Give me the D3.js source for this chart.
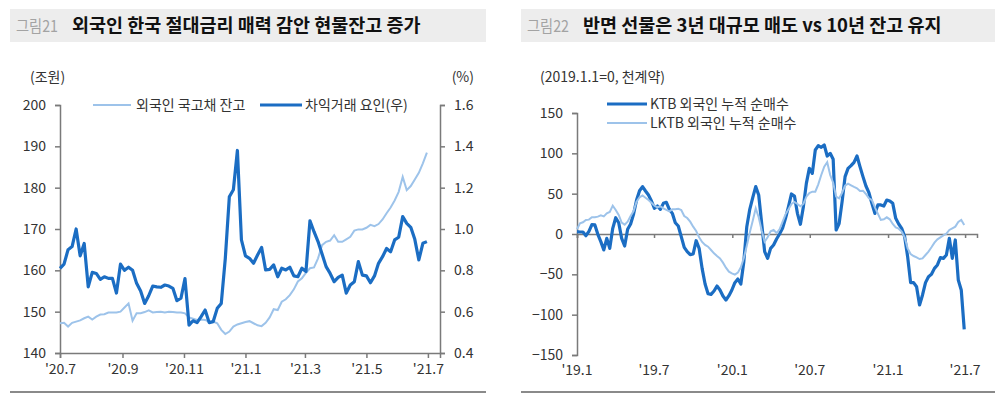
<!DOCTYPE html>
<html>
<head>
    <meta charset="utf-8">
    <title>외국인 국고채 / 선물</title>
    <style>
        body { margin: 0; background: #fff; }
        svg text { font-family: "Noto Sans CJK KR", "Noto Sans", sans-serif; fill: #333; }
        .axis path, .axis line { stroke: #7a7a7a; stroke-width: 1.5px; }
        .axis text { font-size: 14px; fill: #333; }
    </style>
</head>
<body>
    <svg width="1000" height="399"></svg>
    <script src="https://d3js.org/d3.v7.min.js"></script>
    <script>
        // ---- data: left panel (4-day steps from 2020-07-01) ----
        const leftStart = "2020-07-01";
        const leftStep = 4;
        const bondBalance = [ // 외국인 국고채 잔고 (조원)
            147.2, 147.3, 146.4, 147.3, 147.6, 147.9, 148.4, 148.8, 148.1, 148.8,
            149.3, 149.4, 149.8, 149.8, 149.8, 150.0, 151.0, 152.0, 147.8, 149.6,
            149.6, 149.9, 150.3, 149.8, 149.9, 150.0, 149.8, 150.0, 149.9, 149.8,
            149.8, 149.6, 148.6, 148.3, 148.0, 148.1, 148.0, 147.5, 147.6, 147.2,
            145.6, 144.6, 145.2, 146.4, 146.9, 147.2, 147.5, 147.7, 147.2, 146.7,
            146.5, 147.3, 148.6, 150.6, 150.4, 152.4, 153.0, 154.0, 155.4, 157.3,
            158.1, 159.4, 160.5, 160.7, 162.9, 166.1, 166.9, 167.2, 168.5, 166.9,
            166.9, 167.5, 168.1, 169.6, 169.9, 169.9, 170.3, 171.0, 170.7, 171.2,
            172.3, 173.8, 175.2, 176.9, 179.0, 182.6, 179.4, 180.4, 182.0, 183.6,
            185.9, 188.5
        ];
        const arbFactor = [ // 차익거래 요인 (%, 우)
            0.81, 0.83, 0.90, 0.915, 1.00, 0.87, 0.93, 0.72, 0.79, 0.785,
            0.756, 0.769, 0.761, 0.761, 0.69, 0.83, 0.80, 0.815, 0.80, 0.737,
            0.70, 0.64, 0.677, 0.724, 0.72, 0.718, 0.729, 0.724, 0.713, 0.653,
            0.665, 0.76, 0.535, 0.556, 0.547, 0.576, 0.608, 0.547, 0.552, 0.616,
            0.64, 0.858, 1.156, 1.19, 1.38, 0.947, 0.87, 0.858, 0.834, 0.874,
            0.911, 0.802, 0.805, 0.826, 0.769, 0.81, 0.802, 0.815, 0.773, 0.769,
            0.81, 0.794, 1.04, 0.987, 0.939, 0.879, 0.818, 0.785, 0.745, 0.766,
            0.777, 0.69, 0.729, 0.745, 0.842, 0.777, 0.773, 0.74, 0.773, 0.834,
            0.866, 0.906, 0.89, 0.947, 0.96, 1.06, 1.027, 1.008, 0.95, 0.85,
            0.931, 0.939
        ];
        const leftTicks = ["2020-07-01", "2020-09-01", "2020-11-01", "2021-01-01", "2021-03-01", "2021-05-01", "2021-07-01"];
        const leftYTicks = [140, 150, 160, 170, 180, 190, 200];
        const rightYTicksL = [0.4, 0.6, 0.8, 1.0, 1.2, 1.4, 1.6];

        // ---- data: right panel (weekly from 2019-01-01, 천계약) ----
        const rightStart = "2019-01-01";
        const rightStep = 7;
        const ktbNet = [ // KTB 외국인 누적 순매수
            2.9, 2.5, 2.5, -2.1, 3.3, 11.6, 11.2, -0.4, -9.5, -19.8,
            -5.4, -17.8, 7.0, 20.2, 14.0, -5.4, -14.9, 5.8, 12.4, 24.8,
            42.1, 53.7, 58.7, 53.3, 48.3, 40.9, 31.8, 34.7, 30.6, 38.0,
            39.3, 30.6, 25.6, 14.0, 9.9, -3.3, -16.5, -21.9, -25.6, -24.8,
            -8.3, -17.8, -42.6, -62.0, -74.0, -74.8, -70.7, -64.5, -69.4, -76.9,
            -81.8, -76.4, -69.4, -60.3, -55.8, -62.0, -34.3, 9.1, 30.6, 45.0,
            58.7, 48.3, 13.2, -21.9, -30.2, -17.8, -13.6, -6.2, 0, 7.0,
            19.4, 33.9, 49.6, 47.1, 25.6, 12.0, 33.9, 62.8, 81.4, 75.2,
            104.1, 109.5, 107.4, 110.3, 96.7, 100.0, 92.6, 5.0, 13.0, 40.1,
            71.1, 81.4, 84.7, 88.8, 96.7, 83.5, 71.1, 59.5, 51.2, 38.0,
            25.6, 36.0, 36.0, 34.7, 42.1, 40.9, 38.0, 19.4, 12.4, 7.0,
            -3.3, -28.1, -60.3, -60.3, -65.3, -88, -75.6, -60.3, -52.9, -50.0,
            -42.6, -38.4, -29.3, -30.2, -26.0, -5.4, -30.2, -7.4, -57.0, -69.4,
            -118.2
        ];
        const lktbNet = [ // LKTB 외국인 누적 순매수
            5.8, 13.2, 14.5, 17.4, 17.8, 20.7, 20.7, 21.5, 23.1, 21.9,
            25.6, 27.3, 35.1, 29.8, 23.6, 14.0, 11.6, 15.3, 22.3, 28.5,
            40.1, 45.5, 47.9, 45.0, 42.1, 38.8, 35.1, 33.1, 34.3, 31.8,
            29.8, 28.1, 30.6, 30.6, 31.4, 29.8, 22.3, 19.8, 15.3, 9.1,
            3.7, -4.1, -9.9, -13.6, -15.7, -19.8, -24.0, -27.3, -30.2, -35.5,
            -41.7, -46.7, -48.8, -50.4, -47.9, -41.3, -29.8, -14.5, 1.7, 16.5,
            31.8, 20.7, 4.1, -9.5, -4.1, 3.3, 5.0, 1.2, 5.8, 14.9,
            24.4, 30.6, 37.2, 39.7, 37.2, 34.3, 37.2, 46.3, 50.8, 52.5,
            52.5, 61.6, 73.1, 83.5, 89, 73.1, 63.6, 46.3, 44.2, 51.2,
            59.9, 62.4, 60.3, 58.3, 56.6, 53.3, 53.7, 49.6, 44.2, 42.1,
            33.1, 25.2, 17.4, 18.2, 20.7, 18.2, 12.4, 8.3, 6.6, 2.9,
            -4.1, -17.8, -24.8, -27.3, -28.9, -31.0, -30.2, -26.0, -21.9, -16.5,
            -10.7, -6.6, -4.1, -1.7, 0.4, 5.0, 7.0, 9.1, 14.9, 17.4,
            11.2
        ];
        const rightTicks = ["2019-01-01", "2019-07-01", "2020-01-01", "2020-07-01", "2021-01-01", "2021-07-01"];
        const rightYTicks = [-150, -100, -50, 0, 50, 100, 150];

        const DARK = "#1b6dc3";
        const LIGHT = "#9dc3ea";

        const parse = d3.utcParse("%Y-%m-%d");
        const fmtDate = d3.utcFormat("'%y.%-m");
        const svg = d3.select("svg");

        function datesFor(start, step, n) {
            const s = parse(start);
            return d3.range(n).map(i => d3.utcDay.offset(s, i * step));
        }

        function titleBar(x0, x1, num, title) {
            svg.append("rect").attr("x", x0).attr("y", 9).attr("width", x1 - x0).attr("height", 33)
                .attr("fill", "#ededed");
            svg.append("text").attr("x", x0 + 6).attr("y", 32).attr("font-size", 16)
                .attr("textLength", 42).attr("lengthAdjust", "spacingAndGlyphs")
                .style("fill", "#a3a3a3").text(num);
            svg.append("text").attr("x", x0 + 62).attr("y", 32).attr("font-size", 18.5)
                .attr("font-weight", "bold").style("fill", "#111").text(title);
            svg.append("line").attr("x1", x0).attr("x2", x1).attr("y1", 392).attr("y2", 392)
                .attr("stroke", "#8a8a8a").attr("stroke-width", 2);
        }

        titleBar(10, 486, "그림21", "외국인 한국 절대금리 매력 감안 현물잔고 증가");
        titleBar(521, 995, "그림22", "반면 선물은 3년 대규모 매도 vs 10년 잔고 유지");

        // ================= left panel =================
        const lDates = datesFor(leftStart, leftStep, bondBalance.length);
        const xL = d3.scaleUtc().domain([parse("2020-07-01"), parse("2021-07-13")]).range([60, 440]);
        const yL = d3.scaleLinear().domain([140, 200]).range([353, 105]);
        const yR = d3.scaleLinear().domain([0.4, 1.6]).range([353, 105]);

        svg.append("g").attr("class", "axis").attr("transform", "translate(60,0)")
            .call(d3.axisLeft(yL).tickValues(leftYTicks).tickSize(5).tickPadding(9).tickFormat(d3.format("d")));
        svg.append("g").attr("class", "axis").attr("transform", "translate(440,0)")
            .call(d3.axisRight(yR).tickValues(rightYTicksL).tickSize(5).tickPadding(9).tickFormat(d3.format(".1f")));
        svg.append("g").attr("class", "axis").attr("transform", "translate(0,353)")
            .call(d3.axisBottom(xL).tickValues(leftTicks.map(parse)).tickSize(5).tickPadding(6).tickFormat(fmtDate));

        const lineBal = d3.line().x((d, i) => xL(lDates[i])).y(d => yL(d));
        const lineArb = d3.line().x((d, i) => xL(lDates[i])).y(d => yR(d));

        svg.append("path").datum(bondBalance).attr("d", lineBal)
            .attr("fill", "none").attr("stroke", LIGHT).attr("stroke-width", 2);
        svg.append("path").datum(arbFactor).attr("d", lineArb)
            .attr("fill", "none").attr("stroke", DARK).attr("stroke-width", 3.2).attr("stroke-linejoin", "round");

        svg.append("text").attr("x", 30).attr("y", 82).attr("font-size", 14).text("(조원)");
        svg.append("text").attr("x", 474).attr("y", 82).attr("font-size", 14).attr("text-anchor", "end").text("(%)");

        // legend
        svg.append("line").attr("x1", 93).attr("x2", 131).attr("y1", 105).attr("y2", 105)
            .attr("stroke", LIGHT).attr("stroke-width", 2);
        svg.append("text").attr("x", 136).attr("y", 110).attr("font-size", 14).text("외국인 국고채 잔고");
        svg.append("line").attr("x1", 260).attr("x2", 302).attr("y1", 105).attr("y2", 105)
            .attr("stroke", DARK).attr("stroke-width", 3);
        svg.append("text").attr("x", 305).attr("y", 110).attr("font-size", 14).text("차익거래 요인(우)");

        // ================= right panel =================
        const rDates = datesFor(rightStart, rightStep, ktbNet.length);
        const xR = d3.scaleUtc().domain([parse("2019-01-01"), parse("2021-07-29")]).range([577, 977]);
        const yN = d3.scaleLinear().domain([-150, 150]).range([355, 113]);

        svg.append("g").attr("class", "axis").attr("transform", "translate(577,0)")
            .call(d3.axisLeft(yN).tickValues(rightYTicks).tickSize(5).tickPadding(9));
        // zero line with ticks
        svg.append("g").attr("class", "axis").attr("transform", `translate(0,${yN(0)})`)
            .call(d3.axisBottom(xR).tickValues(rightTicks.map(parse)).tickSize(4).tickFormat(""));
        // date labels at the bottom
        rightTicks.forEach(t => {
            svg.append("text").attr("x", xR(parse(t))).attr("y", 375).attr("font-size", 14)
                .attr("text-anchor", "middle").text(fmtDate(parse(t)));
        });

        const lineN = d3.line().x((d, i) => xR(rDates[i])).y(d => yN(d));
        svg.append("path").datum(ktbNet).attr("d", lineN)
            .attr("fill", "none").attr("stroke", DARK).attr("stroke-width", 3.2).attr("stroke-linejoin", "round");
        svg.append("path").datum(lktbNet).attr("d", lineN)
            .attr("fill", "none").attr("stroke", LIGHT).attr("stroke-width", 2);

        svg.append("text").attr("x", 540).attr("y", 82).attr("font-size", 14).text("(2019.1.1=0, 천계약)");

        svg.append("line").attr("x1", 607).attr("x2", 647).attr("y1", 104).attr("y2", 104)
            .attr("stroke", DARK).attr("stroke-width", 3);
        svg.append("text").attr("x", 650).attr("y", 109).attr("font-size", 14).text("KTB 외국인 누적 순매수");
        svg.append("line").attr("x1", 607).attr("x2", 647).attr("y1", 123).attr("y2", 123)
            .attr("stroke", LIGHT).attr("stroke-width", 2);
        svg.append("text").attr("x", 650).attr("y", 128).attr("font-size", 14).text("LKTB 외국인 누적 순매수");
    </script>
</body>
</html>
